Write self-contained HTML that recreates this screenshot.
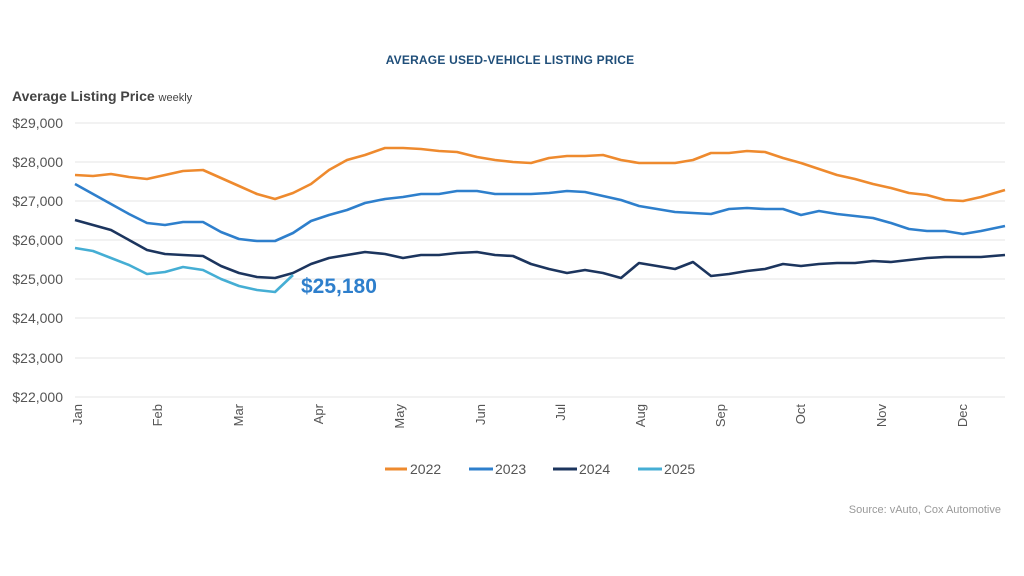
<!DOCTYPE html>
<html><head><meta charset="utf-8"><style>
html,body{margin:0;padding:0;background:#fff;}
svg{display:block;font-family:"Liberation Sans",Arial,sans-serif;}
</style></head><body>
<svg width="1024" height="576" viewBox="0 0 1024 576" xmlns="http://www.w3.org/2000/svg">
<rect width="1024" height="576" fill="#fff"/>
<text x="510" y="64" text-anchor="middle" font-size="12" font-weight="bold" fill="#1f4e79" letter-spacing="0.2">AVERAGE USED-VEHICLE LISTING PRICE</text>
<text x="12" y="101" font-size="14" font-weight="bold" fill="#444">Average Listing Price <tspan font-size="11" font-weight="normal">weekly</tspan></text>
<g stroke="#e6e6e6" stroke-width="1">
<line x1="75" x2="1005" y1="123" y2="123"/><line x1="75" x2="1005" y1="162" y2="162"/>
<line x1="75" x2="1005" y1="201" y2="201"/><line x1="75" x2="1005" y1="240" y2="240"/>
<line x1="75" x2="1005" y1="279" y2="279"/><line x1="75" x2="1005" y1="318" y2="318"/>
<line x1="75" x2="1005" y1="358" y2="358"/><line x1="75" x2="1005" y1="397" y2="397"/>
</g>
<g font-size="14" fill="#555" text-anchor="end">
<text x="63" y="128">$29,000</text><text x="63" y="167">$28,000</text><text x="63" y="206">$27,000</text>
<text x="63" y="245">$26,000</text><text x="63" y="284">$25,000</text><text x="63" y="323">$24,000</text>
<text x="63" y="363">$23,000</text><text x="63" y="402">$22,000</text>
</g>
<g font-size="13" fill="#555" text-anchor="end">
<text transform="translate(82,404) rotate(-90)">Jan</text>
<text transform="translate(162,404) rotate(-90)">Feb</text>
<text transform="translate(243,404) rotate(-90)">Mar</text>
<text transform="translate(323,404) rotate(-90)">Apr</text>
<text transform="translate(404,404) rotate(-90)">May</text>
<text transform="translate(485,404) rotate(-90)">Jun</text>
<text transform="translate(565,404) rotate(-90)">Jul</text>
<text transform="translate(645,404) rotate(-90)">Aug</text>
<text transform="translate(725,404) rotate(-90)">Sep</text>
<text transform="translate(805,404) rotate(-90)">Oct</text>
<text transform="translate(886,404) rotate(-90)">Nov</text>
<text transform="translate(967,404) rotate(-90)">Dec</text>
</g>
<g fill="none" stroke-width="2.6" stroke-linejoin="round">
<polyline stroke="#ee8a2e" points="75,175 93,176 111,174 129,177 147,179 165,175 183,171 203,170 221,178 239,186 257,194 275,199 293,193 311,184 329,170 347,160 365,155 385,148 403,148 421,149 439,151 457,152 477,157 495,160 513,162 531,163 549,158 567,156 585,156 603,155 621,160 639,163 657,163 675,163 693,160 711,153 729,153 747,151 765,152 783,158 801,163 819,169 837,175 855,179 873,184 891,188 909,193 927,195 945,200 963,201 981,197 1005,190"/>
<polyline stroke="#2e7fcc" points="75,184 93,194 111,204 129,214 147,223 165,225 183,222 203,222 221,232 239,239 257,241 275,241 293,233 311,221 329,215 347,210 365,203 385,199 403,197 421,194 439,194 457,191 477,191 495,194 513,194 531,194 549,193 567,191 585,192 603,196 621,200 639,206 657,209 675,212 693,213 711,214 729,209 747,208 765,209 783,209 801,215 819,211 837,214 855,216 873,218 891,223 909,229 927,231 945,231 963,234 981,231 1005,226"/>
<polyline stroke="#1c355e" points="75,220 93,225 111,230 129,240 147,250 165,254 183,255 203,256 221,266 239,273 257,277 275,278 293,273 311,264 329,258 347,255 365,252 385,254 403,258 421,255 439,255 457,253 477,252 495,255 513,256 531,264 549,269 567,273 585,270 603,273 621,278 639,263 657,266 675,269 693,262 711,276 729,274 747,271 765,269 783,264 801,266 819,264 837,263 855,263 873,261 891,262 909,260 927,258 945,257 963,257 981,257 1005,255"/>
<polyline stroke="#45aed4" points="75,248 93,251 111,258 129,265 147,274 165,272 183,267 203,270 221,279 239,286 257,290 275,292 293,275"/>
</g>
<text x="301" y="293" font-size="21" font-weight="bold" fill="#2e7fcc">$25,180</text>
<g stroke-width="3">
<line x1="385" x2="407" y1="469" y2="469" stroke="#ee8a2e"/>
<line x1="469" x2="493" y1="469" y2="469" stroke="#2e7fcc"/>
<line x1="553" x2="577" y1="469" y2="469" stroke="#1c355e"/>
<line x1="638" x2="662" y1="469" y2="469" stroke="#45aed4"/>
</g>
<g font-size="14" fill="#555">
<text x="410" y="474">2022</text><text x="495" y="474">2023</text>
<text x="579" y="474">2024</text><text x="664" y="474">2025</text>
</g>
<text x="1001" y="513" text-anchor="end" font-size="11" fill="#999">Source: vAuto, Cox Automotive</text>
</svg>
</body></html>
